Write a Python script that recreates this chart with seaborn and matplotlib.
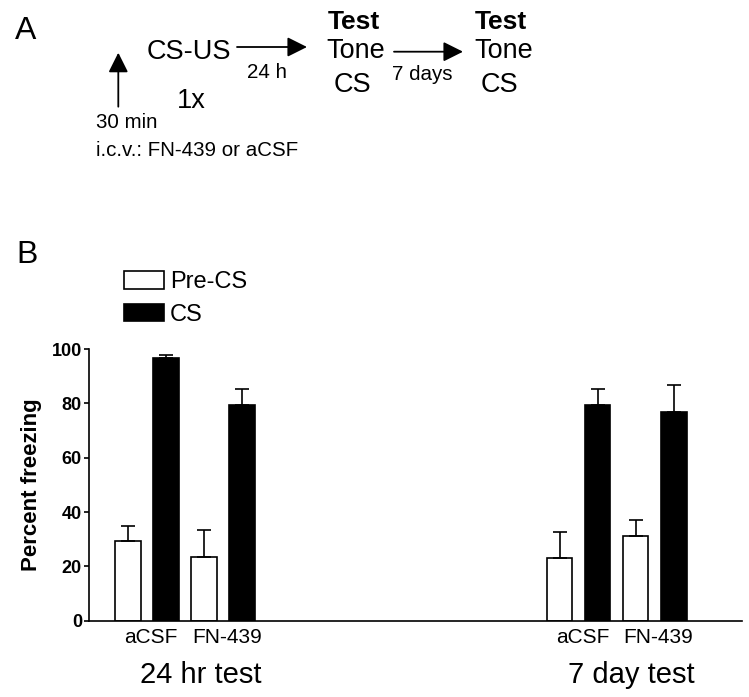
import matplotlib.pyplot as plt
import numpy as np
import pandas as pd
import seaborn as sns

# freezing data (mean, upper error)
sessions = ["24 hr test", "7 day test"]
treatments = ["aCSF", "FN-439"]
phases = ["Pre-CS", "CS"]
pre_cs_mean = [29.4, 23.4, 23.2, 31.0]
pre_cs_err = [5.6, 9.9, 9.6, 5.9]
cs_mean = [96.6, 79.3, 79.4, 76.7]
cs_err = [1.1, 6.0, 5.9, 10.0]

session_offset = {"24 hr test": 0.0, "7 day test": 11.35}

rows = []
i = 0
for s in sessions:
    for t_i, t in enumerate(treatments):
        for p_i, (p, m, e) in enumerate(
            [("Pre-CS", pre_cs_mean[i], pre_cs_err[i]), ("CS", cs_mean[i], cs_err[i])]
        ):
            rows.append(
                {
                    "session": s,
                    "treatment": t,
                    "phase": p,
                    "pos": session_offset[s] + 2 * t_i + p_i,
                    "freezing": m,
                    "err": e,
                }
            )
        i += 1
df = pd.DataFrame(rows)

sns.set_style("ticks")
plt.rcParams["font.family"] = ["Liberation Sans", "DejaVu Sans"]
plt.rcParams.update(
    {
        "text.color": "black",
        "axes.labelcolor": "black",
        "axes.edgecolor": "black",
        "xtick.color": "black",
        "ytick.color": "black",
    }
)

W, H = 749, 697
fig = plt.figure(figsize=(W / 100, H / 100), dpi=100)

# ---- panel B: bar chart ----
ax = fig.add_axes([89 / W, 1 - 620.7 / H, 653 / W, 271.7 / H])
sns.barplot(
    data=df,
    x="pos",
    y="freezing",
    hue="phase",
    hue_order=phases,
    palette={"Pre-CS": "white", "CS": "black"},
    native_scale=True,
    dodge=False,
    width=0.68,
    errorbar=None,
    edgecolor="black",
    linewidth=1.2,
    ax=ax,
)
ax.errorbar(
    df["pos"],
    df["freezing"],
    yerr=[np.zeros(len(df)), df["err"]],
    fmt="none",
    ecolor="black",
    elinewidth=1.2,
    capsize=4.7,
    capthick=1.2,
    zorder=1,
)
ax.set_xlim(-1.03, 16.15)
ax.set_ylim(0, 100)
ax.set_yticks(range(0, 101, 20))
for lab in ax.get_yticklabels():
    lab.set_fontweight("bold")
ax.tick_params(axis="y", length=3.6, width=1.2, labelsize=13, pad=1.5)

centers = df.groupby(["session", "treatment"], sort=False)["pos"].mean()
ax.set_xticks(centers.values + 0.1)
ax.set_xticklabels([t for _, t in centers.index])
ax.tick_params(axis="x", length=0, labelsize=15, pad=5)
ax.set_xlabel("")
ax.set_ylabel("Percent freezing", fontsize=16, fontweight="bold")
ax.yaxis.set_label_coords(-0.072, 0.5)

for s in sessions:
    c = df.loc[df["session"] == s, "pos"].mean()
    ax.text(c + 0.4, -0.229, s, transform=ax.get_xaxis_transform(),
            ha="center", va="baseline", fontsize=21)

for sp in ["top", "right"]:
    ax.spines[sp].set_visible(False)
for sp in ["left", "bottom"]:
    ax.spines[sp].set_linewidth(1.2)

sns.move_legend(
    ax, "upper left",
    bbox_to_anchor=(0.054, 1.287),
    title=None, frameon=False, fontsize=17,
    handlelength=1.69, handleheight=0.76, handletextpad=0.24,
    labelspacing=0.46, borderpad=0, borderaxespad=0,
)
for h in ax.get_legend().get_patches():
    h.set_edgecolor("black")
    h.set_linewidth(1.2)

# ---- panel A: protocol schematic (pixel coordinates) ----
top = fig.add_axes([0, 0, 1, 1])
top.set_xlim(0, W)
top.set_ylim(H, 0)
top.axis("off")
top.patch.set_alpha(0)

big, small = 19.5, 14.8
top.text(15, 39, "A", fontsize=23, va="baseline")
top.text(16, 262.7, "B", fontsize=23, va="baseline")
top.text(146.7, 59.3, "CS-US", fontsize=big, va="baseline")
top.text(176.7, 108, "1x", fontsize=big, va="baseline")
top.text(96, 127.7, "30 min", fontsize=small, va="baseline")
top.text(96, 156, "i.c.v.: FN-439 or aCSF", fontsize=small, va="baseline")
top.text(247, 78.3, "24 h", fontsize=small, va="baseline")
top.text(392, 80, "7 days", fontsize=small, va="baseline")
for x0 in [326.7, 474]:
    top.text(x0 + 1, 29.3, "Test", fontsize=19, fontweight="bold", va="baseline")
    top.text(x0, 58.3, "Tone", fontsize=big, va="baseline")
    top.text(x0 + 6.5, 91.7, "CS", fontsize=big, va="baseline")

arrow = dict(arrowstyle="-|>,head_length=1.2,head_width=0.6", mutation_scale=10,
             lw=1.3, color="black", shrinkA=0, shrinkB=0)
top.annotate("", xy=(307, 47), xytext=(237, 47), arrowprops=arrow)
top.annotate("", xy=(463, 51.7), xytext=(394, 51.7), arrowprops=arrow)
top.annotate("", xy=(118.3, 52.7), xytext=(118.3, 106.7), arrowprops=arrow)

fig.savefig("out.png", dpi=100)
